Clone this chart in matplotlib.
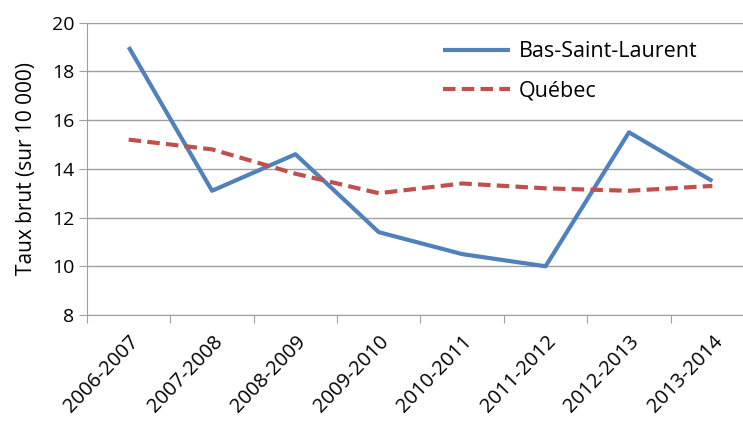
import matplotlib
matplotlib.use("Agg")
import matplotlib.pyplot as plt
import numpy as np

categories = ["2006-2007", "2007-2008", "2008-2009", "2009-2010",
              "2010-2011", "2011-2012", "2012-2013", "2013-2014"]
bsl = [19.0, 13.1, 14.6, 11.4, 10.5, 10.0, 15.5, 13.5]
quebec = [15.2, 14.8, 13.8, 13.0, 13.4, 13.2, 13.1, 13.3]
yticks = [8, 10, 12, 14, 16, 18, 20]

plt.rcParams['font.family'] = ['Open Sans', 'DejaVu Sans']

fig = plt.figure(figsize=(7.43, 4.32), dpi=100)
ax = fig.add_axes([87/743, 1-315/432, (754-87)/743, (315-22.7)/432])

x = np.arange(len(categories))
ax.plot(x, bsl, color="#4F81BD", lw=3.0, label="Bas-Saint-Laurent", solid_capstyle='butt')
ax.plot(x, quebec, color="#C0504D", lw=3.0, ls=(0, (3, 1.5)), label="Québec", dash_capstyle='butt')

ax.set_xlim(-0.5, len(categories) - 0.5)
ax.set_ylim(8, 20)
ax.set_yticks(yticks)
ax.set_yticklabels([str(v) for v in yticks], fontsize=14)
ax.yaxis.grid(True, color="#A0A0A0", lw=1)
ax.set_axisbelow(True)

ax.set_xticks(np.arange(len(categories) + 1) - 0.5)
ax.set_xticklabels([])
ax.set_xticks(x, minor=True)
ax.set_xticklabels(categories, minor=True, rotation=46, ha='right',
                   rotation_mode='anchor', fontsize=14.5)
ax.tick_params(axis='x', which='minor', length=0, pad=12)
ax.tick_params(axis='x', which='major', length=6, color="#A0A0A0", direction='out')
ax.tick_params(axis='y', length=6, color="#A0A0A0", pad=3)

for s in ['top', 'right']:
    ax.spines[s].set_visible(False)
for s in ['left', 'bottom']:
    ax.spines[s].set_color("#A0A0A0")

ax.set_ylabel("Taux brut (sur 10 000)", fontsize=15, labelpad=11)

leg = ax.legend(loc='upper left', bbox_to_anchor=((424-87)/667, 1.003), frameon=False,
                fontsize=15.5, handlelength=3.1, handletextpad=0.4, labelspacing=0.85)

fig.savefig("out.png", dpi=100)
